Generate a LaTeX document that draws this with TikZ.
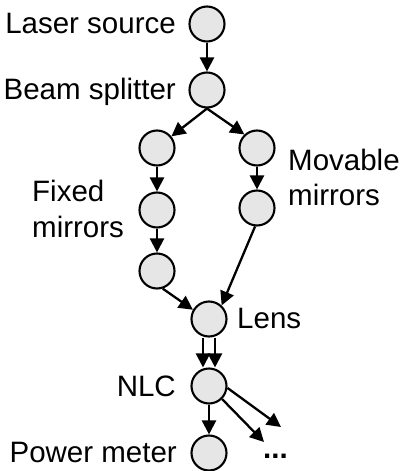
\documentclass[tikz,border=0pt]{standalone}
\usepackage{fontspec}
\setmainfont{Liberation Sans}
\usetikzlibrary{arrows.meta}
\definecolor{nodefill}{RGB}{230,230,230}
\tikzset{
  elem/.style={circle, draw=black, line width=2.1pt, fill=nodefill, minimum size=35pt, inner sep=0pt},
  lbl/.style={inner sep=0pt, font=\fontsize{29.5}{35}\selectfont},
  conn/.style={line width=2.3pt, -{Triangle[length=14pt,width=14pt]}}
}
\begin{document}
\begin{tikzpicture}[x=1pt,y=-1pt]
\useasboundingbox (0,0) rectangle (401,471);
\node[elem] (ls) at (207,24) {};
\node[elem] (bs) at (207,90) {};
\node[elem] (f1) at (157,148) {};
\node[elem] (m1) at (257,148) {};
\node[elem] (f2) at (157,210) {};
\node[elem] (m2) at (257,208) {};
\node[elem] (f3) at (157,271) {};
\node[elem] (lens) at (209,319) {};
\node[elem] (nlc) at (209,386) {};
\node[elem] (pm) at (209,453) {};
\coordinate (e1) at (281,427);
\coordinate (e2) at (264,442);

\node[lbl, anchor=base east] (tls) at (176,33) {Laser source};
\node[lbl, anchor=base east] (tbs) at (176,99) {Beam splitter};
\node[lbl, anchor=base west] (tf1) at (32,201) {Fixed};
\node[lbl, anchor=base west] (tf2) at (32,237) {mirrors};
\node[lbl, anchor=base west] (tm1) at (288,170) {Movable};
\node[lbl, anchor=base west] (tm2) at (288,205) {mirrors};
\node[lbl, anchor=base west] (tlens) at (237,328) {Lens};
\node[lbl, anchor=base east] (tnlc) at (176,396) {NLC};
\node[lbl, anchor=base east] (tpm) at (177,462) {Power meter};
\node[lbl, anchor=base west] (tdots) at (263,458) {\textbf{...}};

\draw[conn] (ls) -- (bs);
\draw[conn] (bs.south) -- (f1.39);
\draw[conn] (bs.south) -- (m1.133);
\draw[conn] (f1) -- (f2);
\draw[conn] (f2) -- (f3);
\draw[conn] (m1) -- (m2);
\draw[conn] (f3.288) -- (lens.150);
\draw[conn] (m2.264) -- (lens.47);
\draw[conn] ([xshift=-6pt]lens.south) -- ([xshift=-6pt]nlc.north);
\draw[conn] ([xshift=6pt]lens.south) -- ([xshift=6pt]nlc.north);
\draw[conn] (nlc) -- (pm);
\draw[conn] (nlc.354) -- (e1);
\draw[conn] (nlc.315) -- (e2);
\end{tikzpicture}
\end{document}
